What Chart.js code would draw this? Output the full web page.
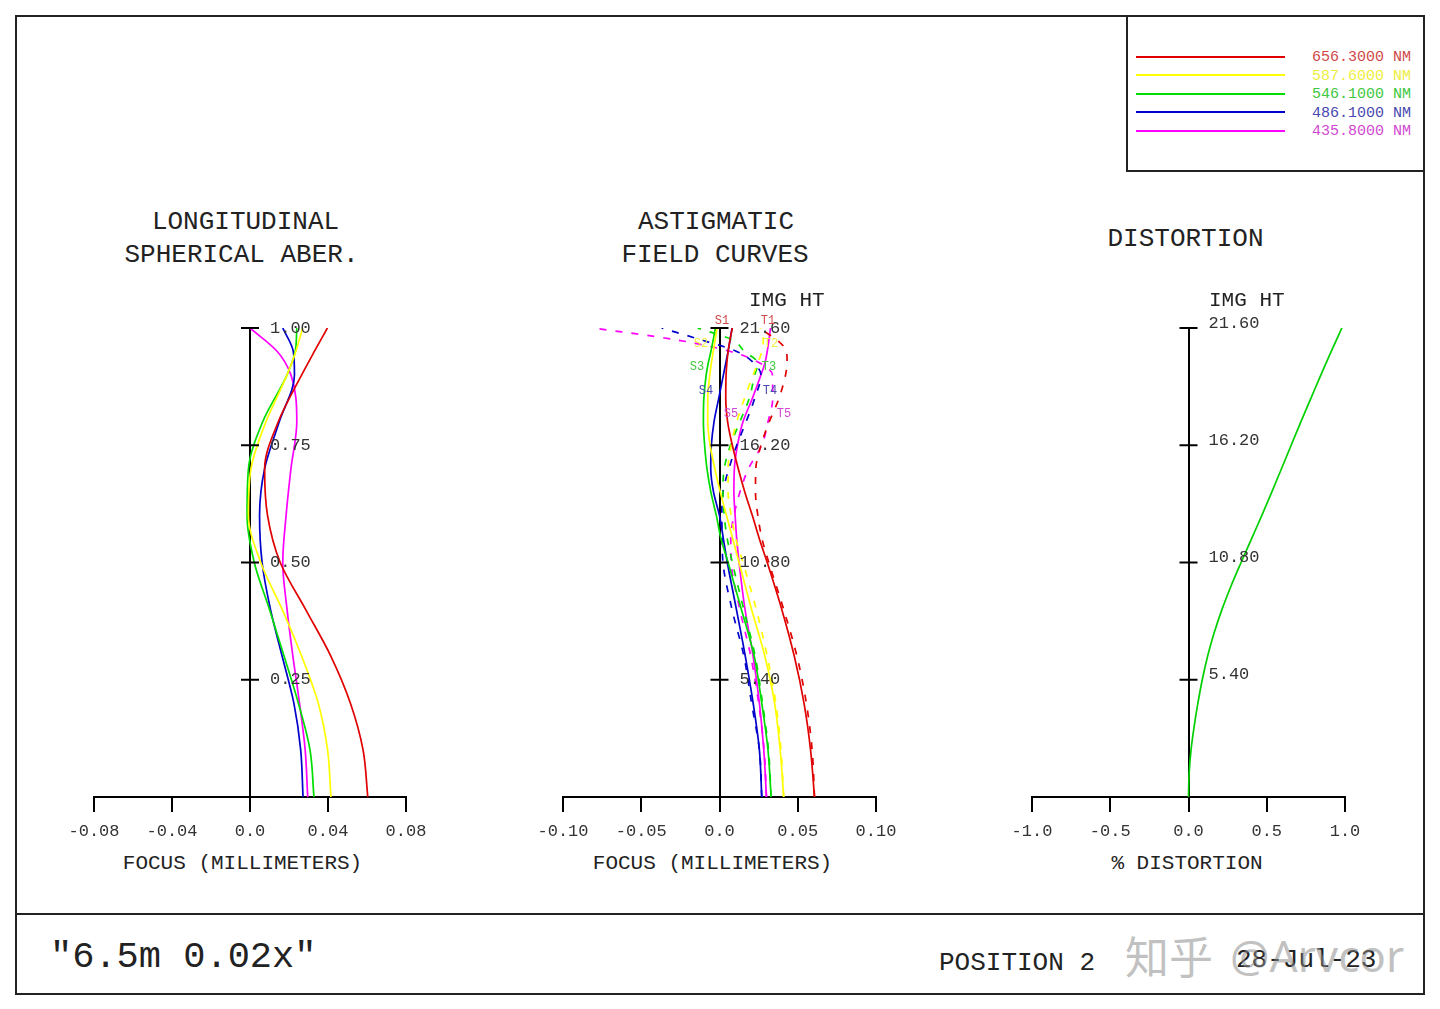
<!DOCTYPE html>
<html>
<head>
<meta charset="utf-8">
<title>6.5m 0.02x - aberration plots</title>
<script src="https://cdn.jsdelivr.net/npm/chart.js@4.4.1/dist/chart.umd.min.js"></script>
<style>
    html, body { margin: 0; padding: 0; background: #fff; }
    #page { position: relative; width: 1440px; height: 1009px; overflow: hidden; font-family: 'Liberation Mono', monospace; color: #222; }
    .box { position: absolute; border: 0 solid #222; }
    .txt { position: absolute; white-space: pre; line-height: 1; }
    canvas { position: absolute; }
</style>
</head>
<body>
<div id="page">
    <div class="box" style="left:15px;top:15px;width:1406px;height:976px;border-width:2px;"></div>
    <div class="box" style="left:15px;top:913px;width:1410px;height:2px;background:#222;"></div>
    <div class="box" style="left:1126px;top:15px;width:297px;height:155px;border-left-width:2px;border-bottom-width:2px;"></div>
    <canvas id="lsa" width="392" height="539" style="left:54px;top:308px;"></canvas>
    <canvas id="astig" width="393" height="539" style="left:523px;top:308px;"></canvas>
    <canvas id="dist" width="393" height="539" style="left:992px;top:308px;"></canvas>
</div>
<script>
'use strict';

// wavelengths (legend)
const waveLabels = ['656.3000 NM', '587.6000 NM', '546.1000 NM', '486.1000 NM', '435.8000 NM'];
const waveColors = ['#e00000', '#ffff00', '#00dd00', '#0000cc', '#ff00ff'];
const waveTextColors = ['#d04848', '#eeee40', '#40c840', '#4848b0', '#d048d0'];

// longitudinal spherical aberration: relative pupil height vs focus (mm)
const lsaPupil = [0, 0.1, 0.2, 0.3, 0.4, 0.5, 0.6, 0.7, 0.8, 0.9, 0.95, 1.0];
const lsa656 = [0.0604, 0.0580, 0.0515, 0.0415, 0.0285, 0.0155, 0.0090, 0.0075, 0.0145, 0.0265, 0.0330, 0.0397];
const lsa588 = [0.0415, 0.0398, 0.0350, 0.0265, 0.0165, 0.0055, -0.0008, 0.0005, 0.0082, 0.0190, 0.0235, 0.0270];
const lsa546 = [0.0328, 0.0308, 0.0248, 0.0175, 0.0100, 0.0022, -0.0015, -0.0008, 0.0065, 0.0190, 0.0232, 0.0240];
const lsa486 = [0.0272, 0.0260, 0.0225, 0.0165, 0.0105, 0.0062, 0.0049, 0.0075, 0.0150, 0.0228, 0.0222, 0.0168];
const lsa436 = [0.0296, 0.0283, 0.0254, 0.0220, 0.0190, 0.0168, 0.0185, 0.0210, 0.0240, 0.0210, 0.0140, 0.0000];

// astigmatic field curves: image height (mm) vs focus (mm), S = sagittal, T = tangential
const fieldHt = [0, 2.16, 4.32, 6.48, 8.64, 10.8, 11.88, 12.96, 14.04, 15.12, 16.2, 17.28, 18.36, 19.44, 19.98, 20.52, 21.06, 21.6];
const sag656 = [0.0607, 0.0582, 0.0540, 0.0478, 0.0398, 0.0305, 0.0255, 0.0210, 0.0162, 0.0120, 0.0082, 0.0052, 0.0040, 0.0042, 0.0047, 0.0055, 0.0067, 0.0082];
const tan656 = [0.0607, 0.0592, 0.0555, 0.0495, 0.0410, 0.0315, 0.0272, 0.0245, 0.0230, 0.0232, 0.0265, 0.0318, 0.0380, 0.0422, 0.0432, 0.0428, 0.0365, 0.0250];
const sag588 = [0.0410, 0.0388, 0.0352, 0.0290, 0.0205, 0.0125, 0.0085, 0.0045, 0.0005, -0.0030, -0.0060, -0.0075, -0.0075, -0.0062, -0.0052, -0.0040, -0.0028, -0.0015];
const tan588 = [0.0410, 0.0393, 0.0360, 0.0305, 0.0235, 0.0150, 0.0105, 0.0075, 0.0055, 0.0055, 0.0075, 0.0110, 0.0160, 0.0215, 0.0245, 0.0270, 0.0280, 0.0260];
const sag546 = [0.0330, 0.0310, 0.0270, 0.0222, 0.0140, 0.0055, 0.0010, -0.0020, -0.0055, -0.0080, -0.0095, -0.0103, -0.0100, -0.0085, -0.0072, -0.0055, -0.0040, -0.0026];
const tan546 = [0.0330, 0.0313, 0.0275, 0.0228, 0.0155, 0.0082, 0.0050, 0.0030, 0.0022, 0.0030, 0.0070, 0.0130, 0.0190, 0.0225, 0.0245, 0.0160, 0.0080, -0.0140];
const sag486 = [0.0270, 0.0255, 0.0215, 0.0165, 0.0108, 0.0050, 0.0025, 0.0000, -0.0038, -0.0056, -0.0052, -0.0035, -0.0005, 0.0025, 0.0040, 0.0055, 0.0068, 0.0080];
const tan486 = [0.0270, 0.0255, 0.0205, 0.0156, 0.0080, 0.0022, 0.0017, 0.0015, 0.0022, 0.0060, 0.0110, 0.0170, 0.0225, 0.0265, 0.0220, 0.0110, -0.0120, -0.0370];
const sag436 = [0.0300, 0.0283, 0.0255, 0.0215, 0.0163, 0.0125, 0.0110, 0.0100, 0.0092, 0.0095, 0.0115, 0.0150, 0.0210, 0.0265, 0.0290, 0.0305, 0.0316, 0.0326];
const tan436 = [0.0300, 0.0285, 0.0250, 0.0200, 0.0130, 0.0075, 0.0072, 0.0092, 0.0130, 0.0185, 0.0270, 0.0310, 0.0340, 0.0338, 0.0260, 0.0070, -0.0280, -0.0805];

// distortion: image height (mm) vs % distortion
const distField = [0, 1.08, 2.16, 3.24, 4.32, 5.4, 6.48, 7.56, 8.64, 9.72, 10.8, 11.88, 12.96, 14.04, 15.12, 16.2, 17.28, 18.36, 19.44, 20.52, 21.6];
const distPct = [0, 0.004, 0.016, 0.036, 0.060, 0.088, 0.122, 0.164, 0.214, 0.272, 0.336, 0.402, 0.468, 0.532, 0.594, 0.656, 0.718, 0.782, 0.846, 0.912, 0.980];

// field number labels on the field curves
const fieldTags = [
    ['S1', 722, 320, 0], ['T1', 768, 320, 0],
    ['S2', 701, 343, 1], ['T2', 771, 343, 1],
    ['S3', 697, 366, 2], ['T3', 769, 366, 2],
    ['S4', 706, 390, 3], ['T4', 770, 390, 3],
    ['S5', 731, 413, 4], ['T5', 784, 413, 4]
];

Chart.defaults.font.family = "'Liberation Mono', monospace";

const page = document.getElementById('page');

function addText(str, x, y, size, color, align, family) {
    const d = document.createElement('div');
    d.className = 'txt';
    d.textContent = str;
    d.style.fontSize = size + 'px';
    d.style.color = color || '#222';
    if (family) d.style.fontFamily = family;
    d.style.left = x + 'px';
    d.style.top = (y - size * 0.44) + 'px';
    if (align === 'center') d.style.transform = 'translateX(-50%)';
    page.appendChild(d);
    return d;
}

// titles and axis captions
addText('LONGITUDINAL', 245.5, 220, 26, '#222', 'center');
addText('SPHERICAL ABER.', 241.5, 253, 26, '#222', 'center');
addText('ASTIGMATIC', 716, 220, 26, '#222', 'center');
addText('FIELD CURVES', 715, 253, 26, '#222', 'center');
addText('DISTORTION', 1185.5, 237, 26, '#222', 'center');
addText('IMG HT', 749, 299, 21);
addText('IMG HT', 1209, 299, 21);
addText('FOCUS (MILLIMETERS)', 242.5, 862, 21, '#222', 'center');
addText('FOCUS (MILLIMETERS)', 712.5, 862, 21, '#222', 'center');
addText('% DISTORTION', 1187, 862, 21, '#222', 'center');

// footer
addText('"6.5m 0.02x"', 50, 955, 37);
addText('POSITION 2', 939, 961, 26);
addText('28-Jul-23', 1236, 958, 26);
addText('知乎', 1125, 952, 44, 'rgba(140,140,140,0.55)', null, "'Noto Sans CJK SC', sans-serif");
addText('@Arvcor', 1230, 952, 44, 'rgba(140,140,140,0.55)', null, "'Noto Sans', sans-serif");

// legend box
waveLabels.forEach(function(label, i) {
    const y = 56.5 + i * 18.6;
    const line = document.createElement('div');
    line.className = 'box';
    line.style.cssText = 'left:1136px;width:149px;height:2px;top:' + (y - 1) + 'px;background:' + waveColors[i] + ';';
    page.appendChild(line);
    addText(label, 1312, y, 15, waveTextColors[i]);
});

fieldTags.forEach(function(t) {
    addText(t[0], t[1], t[2], 12, waveTextColors[t[3]], 'center');
});

/**
 * Crossing tick marks and right-hand labels on the vertical axis at x = 0
 */
const crossTicks = {
    id: 'crossTicks',
    afterDraw: function(chart, args, opts) {
        const ctx = chart.ctx;
        const xs = chart.scales.x;
        const ys = chart.scales.y;
        const px = xs.getPixelForValue(0);
        ctx.save();
        ctx.strokeStyle = '#000';
        ctx.lineWidth = 2;
        ctx.fillStyle = '#333';
        ctx.font = "17px 'Liberation Mono'";
        ctx.textBaseline = 'middle';
        ys.ticks.forEach(function(t) {
            if (t.value === 0) return;
            const py = ys.getPixelForValue(t.value);
            ctx.beginPath();
            ctx.moveTo(px - 9, py);
            ctx.lineTo(px + 9, py);
            ctx.stroke();
            ctx.fillText(t.value.toFixed(2), px + 20, py + opts.dy);
        });
        ctx.restore();
    }
};

function pairs(xs, ys) {
    return xs.map(function(v, i) { return {x: v, y: ys[i]}; });
}

function curve(values, heights, color, dashed) {
    return {
        data: pairs(values, heights),
        borderColor: color,
        borderWidth: 1.7,
        borderDash: dashed ? [7, 9] : [],
        pointRadius: 0,
        fill: false,
        cubicInterpolationMode: 'monotone'
    };
}

function panelOptions(xMin, xMax, xStep, yMax, yStep, xFmt, dy) {
    return {
        responsive: false,
        animation: false,
        events: [],
        indexAxis: 'y',
        layout: { padding: { top: 20, left: 40, right: 40, bottom: 0 } },
        plugins: {
            legend: { display: false },
            tooltip: { enabled: false },
            crossTicks: { dy: dy }
        },
        scales: {
            x: {
                type: 'linear',
                position: 'bottom',
                min: xMin,
                max: xMax,
                afterFit: function(scale) { scale.height = 50; },
                grid: { drawOnChartArea: false, color: '#000', lineWidth: 2, tickLength: 15 },
                border: { display: true, color: '#000', width: 2 },
                ticks: {
                    stepSize: xStep,
                    padding: 9,
                    color: '#333',
                    font: { size: 17 },
                    maxRotation: 0,
                    autoSkip: false,
                    callback: xFmt
                }
            },
            y: {
                type: 'linear',
                position: { x: 0 },
                min: 0,
                max: yMax,
                grid: { display: false },
                border: { display: true, color: '#000', width: 2 },
                ticks: { display: false, stepSize: yStep }
            }
        }
    };
}

function fmt2(v) { return v === 0 ? '0.0' : v.toFixed(2); }
function fmt1(v) { return v.toFixed(1); }

// Longitudinal spherical aberration
new Chart(document.getElementById('lsa'), {
    type: 'line',
    data: {
        datasets: [
            curve(lsa656, lsaPupil, waveColors[0]),
            curve(lsa588, lsaPupil, waveColors[1]),
            curve(lsa546, lsaPupil, waveColors[2]),
            curve(lsa486, lsaPupil, waveColors[3]),
            curve(lsa436, lsaPupil, waveColors[4])
        ]
    },
    options: panelOptions(-0.08, 0.08, 0.04, 1, 0.25, fmt2, 0),
    plugins: [crossTicks]
});

// Astigmatic field curves
new Chart(document.getElementById('astig'), {
    type: 'line',
    data: {
        datasets: [
            curve(sag656, fieldHt, waveColors[0]),
            curve(tan656, fieldHt, waveColors[0], true),
            curve(sag588, fieldHt, waveColors[1]),
            curve(tan588, fieldHt, waveColors[1], true),
            curve(sag546, fieldHt, waveColors[2]),
            curve(tan546, fieldHt, waveColors[2], true),
            curve(sag486, fieldHt, waveColors[3]),
            curve(tan486, fieldHt, waveColors[3], true),
            curve(sag436, fieldHt, waveColors[4]),
            curve(tan436, fieldHt, waveColors[4], true)
        ]
    },
    options: panelOptions(-0.10, 0.10, 0.05, 21.6, 5.4, fmt2, 0),
    plugins: [crossTicks]
});

// Distortion
new Chart(document.getElementById('dist'), {
    type: 'line',
    data: {
        datasets: [ curve(distPct, distField, '#00d000') ]
    },
    options: panelOptions(-1, 1, 0.5, 21.6, 5.4, fmt1, -5),
    plugins: [crossTicks]
});
</script>
</body>
</html>
